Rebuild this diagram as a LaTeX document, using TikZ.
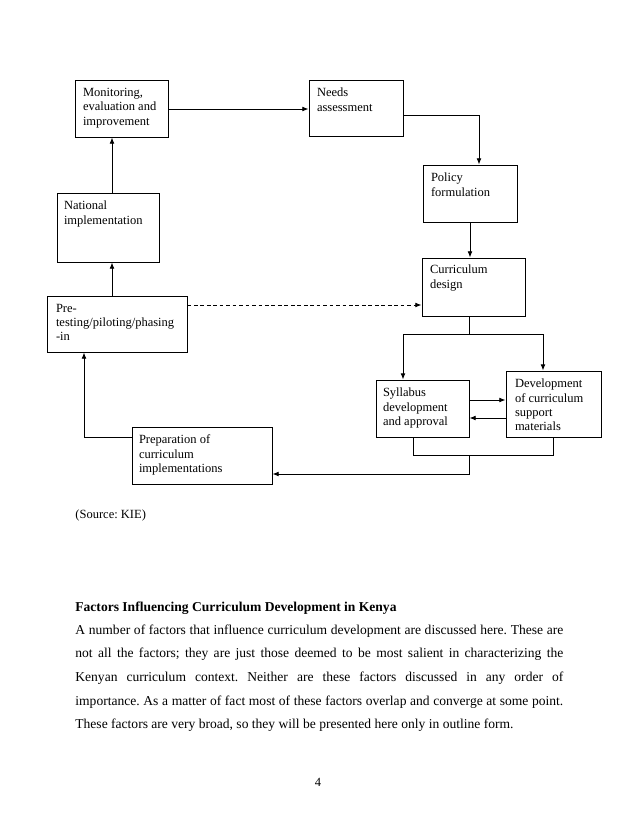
\documentclass[tikz,border=0pt]{standalone}
\usepackage{fontspec}
\setmainfont{Liberation Serif}
\usetikzlibrary{arrows.meta}
\frenchspacing
\begin{document}
\begin{tikzpicture}[x=0.9592pt,y=-0.9592pt,
  line width=0.8pt,
  box/.style 2 args={draw, line width=0.8pt, inner sep=0pt,
    minimum width=#1*0.9592pt, minimum height=#2*0.9592pt},
  btext/.style={inner sep=0pt, align=left, anchor=north west,
    font=\fontsize{12}{13.8}\selectfont},
  body/.style={inner sep=0pt, anchor=base west, font=\fontsize{13}{15}\selectfont},
  arr/.style={-{Latex[length=6pt,width=4.6pt]}},
  dsh/.style={dash pattern=on 3.6pt off 2.6pt}]
\useasboundingbox (0,0) rectangle (638,826);

% boxes
\node[box={93}{57}] (mon) at (121.5,108.5) {};
\node[box={94}{56}] (needs) at (356,108) {};
\node[box={94}{57}] (policy) at (470,193.5) {};
\node[box={103}{58}] (design) at (473.5,287) {};
\node[box={93}{57}] (syl) at (422.5,408.5) {};
\node[box={95}{66}] (dev) at (553.5,404) {};
\node[box={140}{57}] (prep) at (202,455.5) {};
\node[box={140}{56}] (pre) at (117,324) {};
\node[box={102}{69}] (nat) at (108,227.5) {};

% box texts
\node[btext] (monT) at ([shift={(8,8)}]mon.north west) {Monitoring,\\evaluation and\\improvement};
\node[btext] (needsT) at ([shift={(8,8)}]needs.north west) {Needs\\assessment};
\node[btext] (policyT) at ([shift={(8,8)}]policy.north west) {Policy\\formulation};
\node[btext] (designT) at ([shift={(8,7)}]design.north west) {Curriculum\\design};
\node[btext] (sylT) at ([shift={(7,8)}]syl.north west) {Syllabus\\development\\and approval};
\node[btext] (devT) at ([shift={(9,8)}]dev.north west) {Development\\of curriculum\\support\\materials};
\node[btext] (prepT) at ([shift={(7,8)}]prep.north west) {Preparation of\\curriculum\\implementations};
\node[btext] (preT) at ([shift={(9,8)}]pre.north west) {Pre-\\testing/piloting/phasing\\-in};
\node[btext] (natT) at ([shift={(7,8)}]nat.north west) {National\\implementation};

% connectors
\draw[arr] ([shift={(0,0.5)}]mon.east) -- ([shift={(0,0.5)}]mon.east -| needs.west);
\draw[arr] ([shift={(0,7)}]needs.east) -| ([shift={(9,0)}]policy.north);
\draw[arr] (policy.south) -- (policy.south |- design.north);
\coordinate (br) at (469,334);
\coordinate (bl) at (403,334);
\coordinate (brr) at (543,334);
\draw (design.south -| br) -- (br);
\draw (bl) -- (brr);
\draw[arr] (bl) -- (bl |- syl.north);
\draw[arr] (brr) -- (brr |- dev.north);
\draw[arr] ([shift={(0,-8.5)}]syl.east) -- ([shift={(0,-8.5)}]syl.east -| dev.west);
\draw[arr] ([shift={(0,14)}]dev.west) -- ([shift={(0,14)}]dev.west -| syl.east);
\coordinate (m1) at (413,455);
\coordinate (m2) at (553,455);
\coordinate (m3) at (469,455);
\draw (m1 |- syl.south) -- (m1) -- (m2) -- (m2 |- dev.south);
\draw[arr] (m3) |- ([shift={(0,18.5)}]prep.east);
\draw[arr] ([shift={(0,-18.5)}]prep.west) -| ([shift={(-33,0)}]pre.south);
\draw[arr] ([shift={(-5,0)}]pre.north) -- ([shift={(-5,0)}]pre.north |- nat.south);
\draw[arr] ([shift={(4,0)}]nat.north) -- ([shift={(4,0)}]nat.north |- mon.south);
\draw[arr,dsh] ([shift={(0,-19)}]pre.east) -- ([shift={(0,-19)}]pre.east -| design.west);

% texts below
\node[body, font=\fontsize{12}{14}\selectfont] (src) at (75,518) {(Source: KIE)};
\node[body, font=\fontsize{13}{15}\selectfont\bfseries] (head) at (75,611) {Factors Influencing Curriculum Development in Kenya};
\node[body] (l1) at (75,634) {\makebox[468pt][s]{A number of factors that influence curriculum development are discussed here. These are}};
\node[body] (l2) at (75,657.7) {\makebox[468pt][s]{not all the factors; they are just those deemed to be most salient in characterizing the}};
\node[body] (l3) at (75,681.4) {\makebox[468pt][s]{Kenyan curriculum context. Neither are these factors discussed in any order of}};
\node[body] (l4) at (75,705.1) {\makebox[468pt][s]{importance. As a matter of fact most of these factors overlap and converge at some point.}};
\node[body] (l5) at (75,728.8) {These factors are very broad, so they will be presented here only in outline form.};
\node[body, anchor=base, font=\fontsize{12}{14}\selectfont] (pg) at (318,786) {4};
\end{tikzpicture}
\end{document}
